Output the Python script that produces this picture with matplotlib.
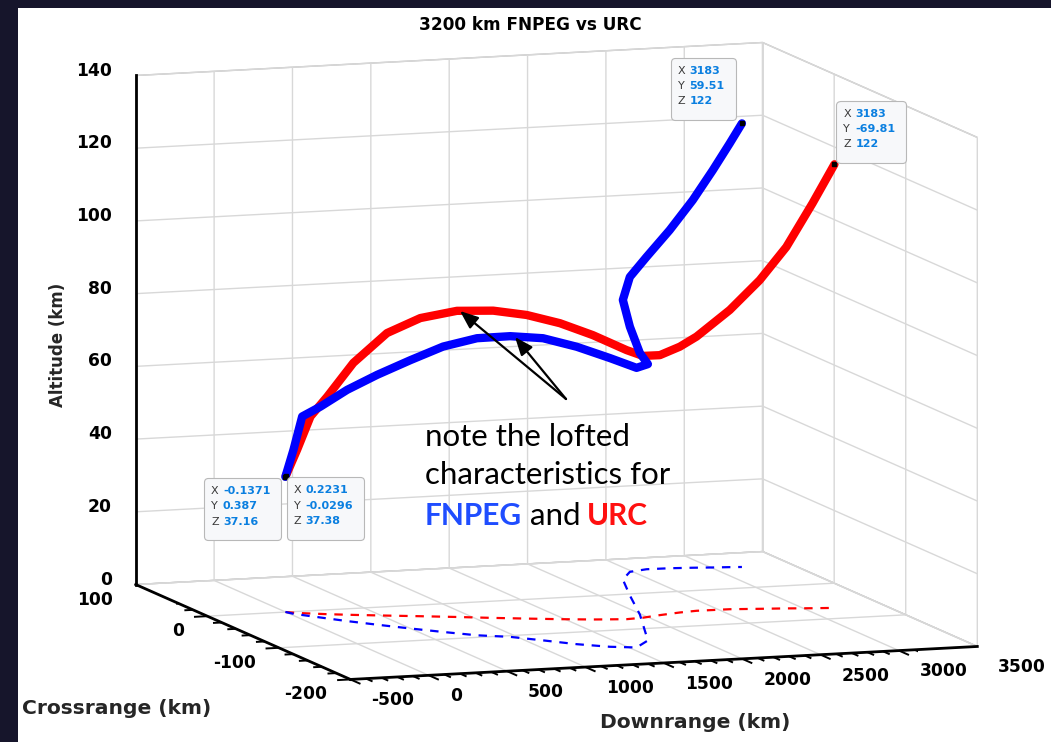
import numpy as np
import matplotlib
matplotlib.use("Agg")
import matplotlib.pyplot as plt
from matplotlib.patches import Rectangle, FancyArrowPatch
from matplotlib.offsetbox import TextArea, HPacker, VPacker, DrawingArea, AnnotationBbox
from mpl_toolkits.mplot3d import proj3d
from mpl_toolkits.mplot3d.art3d import Line3DCollection

# FNPEG trajectory (km)
fnpeg_down = [-0.1371, 22, 56, 128, 234, 358, 499, 641, 791, 960, 1102, 1245, 1401,
              1544, 1699, 1988, 2176, 2342, 2481, 2610, 2755, 2893, 3010, 3111, 3183]
fnpeg_cross = [0.387, -6.1, -10.8, -20.6, -34.7, -49.3, -65.0, -79.7, -94.1, -103.5, -118.3,
               -134.0, -146.3, -152.2, -134.1, -59.6, -4.5, 41.7, 62.4, 67.3, 66.7, 64.7,
               62.5, 60.9, 59.51]
fnpeg_alt = [37.16, 45.1, 54.6, 58.0, 63.6, 68.7, 73.8, 78.5, 81.7, 82.7, 83.1, 81.8, 79.4,
             76.9, 76.0, 71.9, 73.9, 76.9, 81.1, 85.9, 93.0, 101.1, 109.2, 116.5, 122]

# URC trajectory (km)
urc_down = [0.2231, 53, 123, 209, 349, 532, 714, 913, 1108, 1290, 1472, 1656, 1852, 1964,
            2094, 2242, 2359, 2569, 2745, 2902, 3054, 3183]
urc_cross = [-0.0296, -4.4, -7.8, -12.2, -18.1, -25.1, -31.8, -39.4, -47.4, -54.3, -60.9,
             -66.7, -70.8, -69.1, -64.3, -59.8, -57.5, -58.0, -61.3, -64.1, -67.5, -69.81]
urc_alt = [37.38, 44.9, 54.2, 59.8, 69.3, 77.7, 82.0, 84.2, 84.5, 83.5, 81.4, 78.2, 74.0,
           72.0, 71.5, 73.1, 75.4, 82.3, 90.4, 99.4, 111.4, 122]

x_ticks = [-500, 0, 500, 1000, 1500, 2000, 2500, 3000, 3500]
y_ticks = [-200, -100, 0, 100]
z_ticks = [0, 20, 40, 60, 80, 100, 120, 140]

# data tips
tip_points = [(-0.1371, 0.387, 37.16), (0.2231, -0.0296, 37.38),
              (3183, 59.51, 122), (3183, -69.81, 122)]

W, H = 1051, 742
plt.rcParams['font.family'] = 'DejaVu Sans'

fig = plt.figure(figsize=(W / 100, H / 100), dpi=100)
fig.patch.set_facecolor('#16152b')
fig.add_artist(Rectangle((18 / W, 0), 1, (H - 8) / H, transform=fig.transFigure,
                         fc='white', ec='none', zorder=-1))

S = 742
ax = fig.add_axes([175.5 / W, 0, S / W, 1], projection='3d', proj_type='ortho',
                  computed_zorder=False)
ax.set_facecolor('none')
ax.view_init(elev=8.77, azim=-109.03)
ax.set_box_aspect((664.3, 659.6, 516.0), zoom=1.396)
x0, x1, y0, y1, z0, z1 = -500, 3500, -200, 100, 0, 140
ax.set_xlim(x0, x1)
ax.set_ylim(y0, y1)
ax.set_zlim(z0, z1)

for axis in (ax.xaxis, ax.yaxis, ax.zaxis):
    axis.set_pane_color((1, 1, 1, 1))
    axis.pane.set_edgecolor('#bcbcbc')
    axis._axinfo['grid'].update(color='#d8d8d8', linewidth=1.0)
    axis._axinfo['tick'].update(inward_factor=0.0, outward_factor=0.0)
    axis.line.set_color('black')
    axis.line.set_linewidth(2.0)

ax.set_xticks(x_ticks, labels=[])
ax.set_yticks(y_ticks, labels=[])
ax.set_zticks(z_ticks, labels=[])

# tick marks, MATLAB style (pointing out of the box)
minor_x = [t for t in range(-500, 3501, 100) if t not in x_ticks]
minor_y = [t for t in range(-200, 101, 20) if t not in y_ticks]
segs = [[(t, y0, 0), (t, y0 - 14, 0)] for t in x_ticks]
segs += [[(t, y0, 0), (t, y0 - 9, 0)] for t in minor_x]
segs += [[(x0, t, 0), (x0 - 85, t, 0)] for t in y_ticks]
segs += [[(x0, t, 0), (x0 - 55, t, 0)] for t in minor_y]
segs += [[(x0, y1, t), (x0, y1 + 15, t)] for t in z_ticks]
ax.add_collection3d(Line3DCollection(segs, colors='black', linewidths=1.4, zorder=5))

tick_font = dict(fontsize=12.3, fontweight='bold', color='black', zorder=8)
for t in x_ticks:
    ax.text(t, y0 - 29.3, -3.2, str(t), ha='left', va='center', **tick_font)
for t in y_ticks:
    ax.text(x0 - 146.5, t, -3.8, str(t), ha='right', va='center', **tick_font)
for t in z_ticks:
    ax.text(x0 - 153, y1, t + 1.7, str(t), ha='right', va='center', **tick_font)

# ground tracks
ax.plot(urc_down, urc_cross, zs=0, color='red', lw=1.6, ls=(0, (3.8, 3.5)), zorder=2)
ax.plot(fnpeg_down, fnpeg_cross, zs=0, color='blue', lw=1.6, ls=(0, (3.8, 3.5)), zorder=2)
# trajectories
ax.plot(urc_down, urc_cross, urc_alt, color='red', lw=6, zorder=3,
        solid_joinstyle='round', solid_capstyle='round')
ax.plot(fnpeg_down, fnpeg_cross, fnpeg_alt, color='blue', lw=6, zorder=4,
        solid_joinstyle='round', solid_capstyle='round')

tip_align = [(1, 1), (0, 1), (1, 0), (0, 0)]
tip_offset = [(-4, -1), (1, -1), (-6, 3), (2, 1)]
M = ax.get_proj()
for pt, al, off in zip(tip_points, tip_align, tip_offset):
    ax.plot([pt[0]], [pt[1]], [pt[2]], 's', ms=3, color='black', zorder=6)
    px, py, _ = proj3d.proj_transform(pt[0], pt[1], pt[2], M)
    names = TextArea("X\nY\nZ", textprops=dict(color='#3a3a3a', fontsize=8, linespacing=1.65))
    vals = TextArea("\n".join(f"{v:g}" for v in pt),
                    textprops=dict(color='#0a7fe0', fontsize=8, fontweight='bold',
                                   linespacing=1.65))
    row = HPacker(children=[DrawingArea(2, 1), names, vals, DrawingArea(5, 1)],
                  align='top', pad=0, sep=3)
    pack = VPacker(children=[DrawingArea(1, 6), row, DrawingArea(1, 10)],
                   align='left', pad=0, sep=0)
    ab = AnnotationBbox(pack, (px, py), xycoords='data', xybox=off, boxcoords='offset pixels',
                        box_alignment=al, pad=0,
                        bboxprops=dict(boxstyle='round,pad=0,rounding_size=0.3',
                                       fc='#f7f8fa', ec='#b8b8b8', lw=0.8))
    ab.set_zorder(7)
    ax.add_artist(ab)

# title and axis labels
fig.text(530 / W, 1 - 25 / H, '3200 km FNPEG vs URC', ha='center', va='center',
         fontsize=12.2, fontweight='bold')
fig.text(58 / W, 1 - 345 / H, 'Altitude (km)', rotation=90, ha='center', va='center',
         fontsize=12, fontweight='bold', color='#262626')
fig.text(117 / W, 1 - 709 / H, 'Crossrange (km)', ha='center', va='center',
         fontsize=14.6, fontweight='bold', color='#262626')
fig.text(695 / W, 1 - 722 / H, 'Downrange (km)', ha='center', va='center',
         fontsize=14.6, fontweight='bold', color='#262626')

# callout
note_font = dict(family=['Lato', 'DejaVu Sans'], fontsize=22.5)
fig.text(425 / W, 1 - 446 / H, 'note the lofted', va='baseline', **note_font)
fig.text(425 / W, 1 - 484 / H, 'characteristics for', va='baseline', **note_font)
t1 = fig.text(425 / W, 1 - 525 / H, 'FNPEG', va='baseline', color='#1f4dff',
              fontweight='bold', family=['Lato', 'DejaVu Sans'], fontsize=21.5)
a2 = plt.annotate('and', xy=(1, 0), xycoords=t1, xytext=(6, 0), textcoords='offset points',
                  va='bottom', **note_font)
a3 = plt.annotate('URC', xy=(1, 0), xycoords=a2, xytext=(4, 0), textcoords='offset points',
                  va='bottom', color='#ff1010', fontweight='bold',
                  family=['Lato', 'DejaVu Sans'], fontsize=21.5)

for head in [(460, 311), (515, 337)]:
    arr = FancyArrowPatch((566 / W, 1 - 399 / H), (head[0] / W, 1 - head[1] / H),
                          transform=fig.transFigure,
                          arrowstyle='-|>,head_length=1.0,head_width=0.4',
                          mutation_scale=11, lw=1.6, color='black', shrinkA=0, shrinkB=0)
    fig.add_artist(arr)

fig.savefig('out.png', dpi=100, facecolor=fig.get_facecolor())
